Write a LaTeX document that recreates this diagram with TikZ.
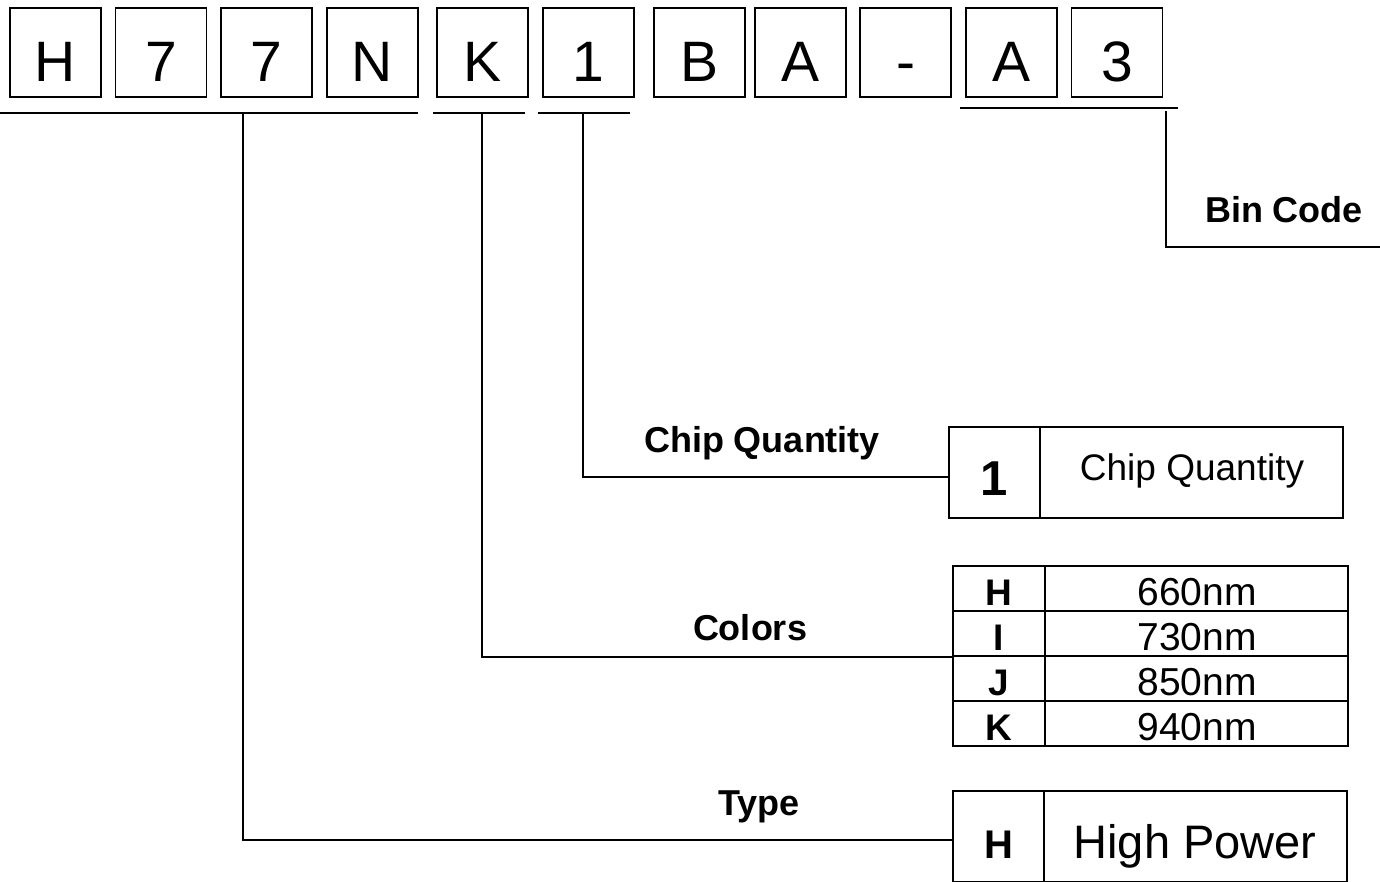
\documentclass[tikz,border=0pt]{standalone}
\usepackage{fontspec}
\setmainfont{Liberation Sans}
\usetikzlibrary{positioning}
\tikzset{
  x=1pt, y=-1pt,
  every path/.style={line width=1.6pt},
  digitbox/.style={draw, minimum width=91pt, minimum height=89pt, inner sep=0pt},
  cell/.style={draw, inner sep=0pt, line width=1.6pt},
  bigch/.style={anchor=base, inner sep=0pt, font=\fontsize{57}{60}\selectfont},
  lbl/.style={anchor=base, inner sep=0pt, font=\fontsize{36}{38}\selectfont\bfseries},
  keyb/.style={anchor=base, inner sep=0pt, font=\fontsize{37}{39}\selectfont\bfseries},
  val/.style={anchor=base, inner sep=0pt, font=\fontsize{39}{41}\selectfont},
  conn/.style={draw, line width=1.6pt},
}
\begin{document}
\begin{tikzpicture}
\useasboundingbox (0,0) rectangle (1380,881);
% top row of boxes
\foreach \n/\cx/\t in {b1/55.5/H, b2/161/7, b3/266.5/7, b4/372.5/N, b5/482.5/K, b6/588.5/1, b7/699.5/B, b8/800.5/A, b9/905.5/-, b10/1011.5/A, b11/1117/3}{
  \node[digitbox] (\n) at (\cx,52.5) {};
  \node[bigch] (\n t) at (\cx,81) {\t};
}
% underline coordinates
\coordinate (u1a) at (0,113);   \coordinate (u1b) at (418,113);  \coordinate (u1c) at (243,113);
\coordinate (u2a) at (433,113); \coordinate (u2b) at (525,113);  \coordinate (u2c) at (482,113);
\coordinate (u3a) at (538,113); \coordinate (u3b) at (630,113);  \coordinate (u3c) at (583,113);
\coordinate (u4a) at (960,108); \coordinate (u4b) at (1178,108); \coordinate (u4c) at (1166,111);
\coordinate (binend) at (1380,247);
\draw (u1a) -- (u1b);
\draw (u2a) -- (u2b);
\draw (u3a) -- (u3b);
\draw (u4a) -- (u4b);

% Bin code
\node[lbl] (binl) at (1284,222) {Bin Code};
\draw[conn] (u4c) |- (binend);

% Chip quantity table
\node[cell, minimum width=91pt, minimum height=91pt] (cq1) at (994.5,472.5) {};
\node[cell, minimum width=303pt, minimum height=91pt] (cq2) at (1191.5,472.5) {};
\node[anchor=base, inner sep=0pt, font=\fontsize{49}{50}\selectfont\bfseries] (cq1t) at (994,495) {1};
\node[anchor=base, inner sep=0pt, font=\fontsize{37}{39}\selectfont] (cq2t) at (1192,480) {Chip Quantity};
\node[lbl] (cql) at (762,452) {Chip Quantity};
\draw[conn] (u3c) |- ([yshift=-4.5pt]cq1.west);

% Colors table
\foreach \n/\cy/\k/\v in {H/588.5/H/660nm, I/633.5/I/730nm, J/678.5/J/850nm, K/723.5/K/940nm}{
  \node[cell, minimum width=92pt, minimum height=45pt] (w\n) at (999,\cy) {};
  \node[cell, minimum width=303pt, minimum height=45pt] (v\n) at (1196.5,\cy) {};
  \node[keyb] (w\n t) at (999,\cy+16.5) {\k};
  \node[val] (v\n t) at (1197,\cy+16.5) {\v};
}
\node[lbl] (coll) at (750,640) {Colors};
\draw[conn] (u2c) |- (wI.south west);

% Type table
\node[cell, minimum width=91pt, minimum height=91pt] (ty1) at (998.5,836.5) {};
\node[cell, minimum width=303pt, minimum height=91pt] (ty2) at (1195.5,836.5) {};
\node[anchor=base, inner sep=0pt, font=\fontsize{40}{41}\selectfont\bfseries] (ty1t) at (999,858) {H};
\node[anchor=base, inner sep=0pt, font=\fontsize{47}{48}\selectfont] (ty2t) at (1195,858) {High Power};
\node[lbl] (typl) at (759,815) {Type};
\draw[conn] (u1c) |- ([yshift=-3.5pt]ty1.west);
\end{tikzpicture}
\end{document}
